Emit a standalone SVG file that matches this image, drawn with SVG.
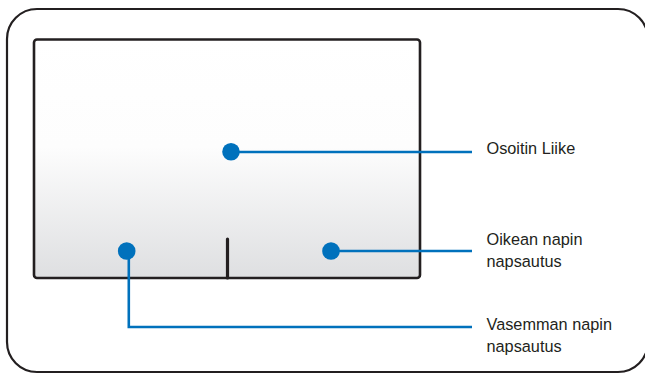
<svg xmlns="http://www.w3.org/2000/svg" width="645" height="375" viewBox="0 0 645 375">
<defs>
<linearGradient id="pad" x1="0" y1="0" x2="0" y2="1">
<stop offset="0" stop-color="#ffffff"/>
<stop offset="0.45" stop-color="#fdfdfd"/>
<stop offset="1" stop-color="#dedfe1"/>
</linearGradient>
<style>
.frame{fill:#ffffff;stroke:#231f20;stroke-width:2.2}
.pad{fill:url(#pad);stroke:#231f20;stroke-width:2.6}
.dot{fill:#0071bc}
.conn{fill:none;stroke:#0071bc;stroke-width:2.6}
.lbl{font-family:"Liberation Sans",Arial,sans-serif;font-size:16.3px;fill:#231f20}
</style>
</defs>
<rect class="frame" x="7" y="9" width="641" height="363" rx="30" ry="30"/>
<g id="touchpad">
<rect class="pad" x="34" y="39.5" width="386" height="238.5" rx="3" ry="3"/>
<line x1="227.5" y1="239" x2="227.5" y2="278" stroke="#231f20" stroke-width="3.2" stroke-linecap="round"/>
</g>
<g id="connectors">
<polyline class="conn" points="231,152 472,152"/>
<polyline class="conn" points="331,251 472,251"/>
<polyline class="conn" points="128.8,251 128.8,327 472,327"/>
</g>
<g id="node-pointer">
<circle class="dot" cx="231" cy="151.7" r="8.8"/>
<text class="lbl" x="486.5" y="154">Osoitin Liike</text>
</g>
<g id="node-right">
<circle class="dot" cx="331" cy="251" r="8.8"/>
<text class="lbl" x="486.5" y="245">Oikean napin</text>
<text class="lbl" x="486.5" y="266.5">napsautus</text>
</g>
<g id="node-left">
<circle class="dot" cx="126.7" cy="251" r="8.8"/>
<text class="lbl" x="486.5" y="330">Vasemman napin</text>
<text class="lbl" x="486.5" y="351.5">napsautus</text>
</g>
</svg>
